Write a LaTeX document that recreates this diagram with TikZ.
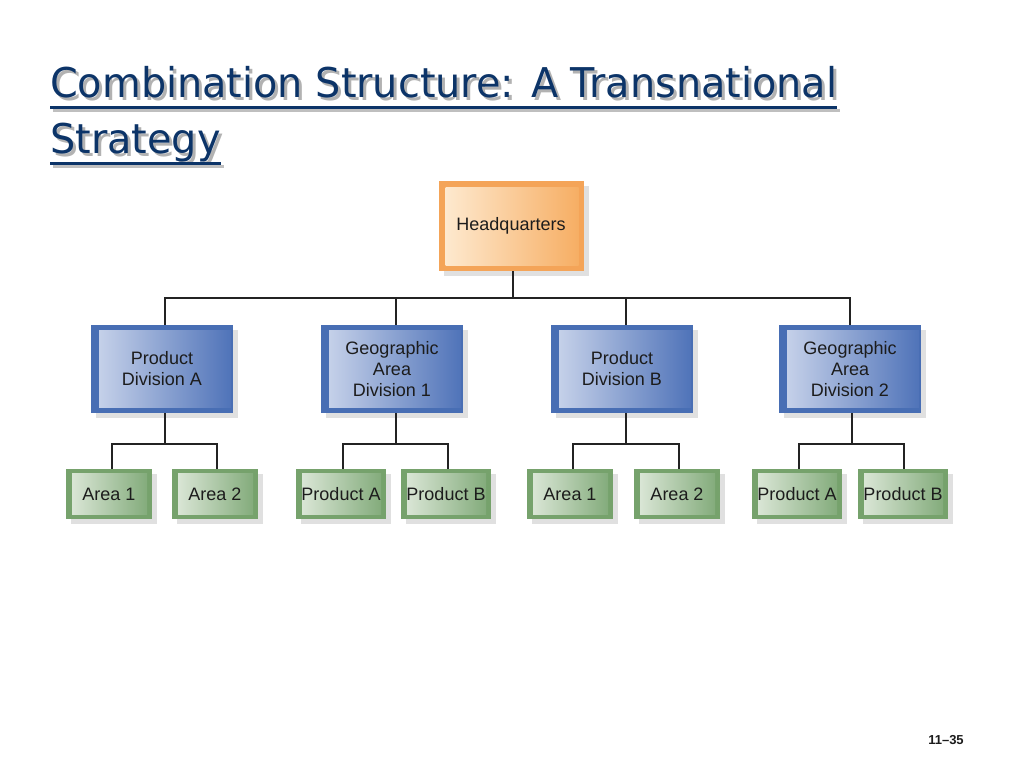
\documentclass[tikz,border=0pt]{standalone}
\usepackage{fontspec}
\setmainfont{Liberation Sans}
\newfontfamily\titlefont{DejaVu Sans}
\usetikzlibrary{shadows}
\definecolor{titlec}{RGB}{12,52,104}
\definecolor{txtc}{RGB}{28,28,28}
\definecolor{hqframe}{RGB}{244,164,88}
\definecolor{hqL}{RGB}{254,236,212}
\definecolor{hqR}{RGB}{246,172,96}
\definecolor{dvframe}{RGB}{72,110,180}
\definecolor{dvL}{RGB}{204,214,236}
\definecolor{dvR}{RGB}{78,114,184}
\definecolor{lfframe}{RGB}{118,162,108}
\definecolor{lfL}{RGB}{224,234,220}
\definecolor{lfR}{RGB}{126,168,118}
\definecolor{linec}{RGB}{35,35,35}
\tikzset{
  orgbase/.style={rectangle, inner sep=0pt, align=center, text=txtc,
    font=\fontsize{18}{21}\selectfont,
    drop shadow={shadow xshift=5pt, shadow yshift=-5pt, fill=black, opacity=0.12}},
  hqbox/.style={orgbase, minimum width=145pt, minimum height=90pt, fill=hqframe,
    path picture={\shade[left color=hqL, right color=hqR]
      ([shift={(7pt,6pt)}]path picture bounding box.south west) rectangle
      ([shift={(-5pt,-6pt)}]path picture bounding box.north east);}},
  divbox/.style={orgbase, minimum width=142pt, minimum height=88pt, fill=dvframe,
    path picture={\shade[left color=dvL, right color=dvR]
      ([shift={(8pt,6pt)}]path picture bounding box.south west) rectangle
      ([shift={(-2pt,-5pt)}]path picture bounding box.north east);}},
  leafbox/.style={orgbase, minimum width=#1, minimum height=50pt, fill=lfframe,
    path picture={\shade[left color=lfL, right color=lfR]
      ([shift={(6pt,5pt)}]path picture bounding box.south west) rectangle
      ([shift={(-5pt,-4pt)}]path picture bounding box.north east);}},
  leafbox/.default=86pt,
  conn/.style={draw=linec, line width=1.2pt},
  titletext/.style={anchor=base west, inner sep=0pt, text=titlec,
    font=\titlefont\fontsize{41}{49}\selectfont},
  titleshadow/.style={titletext, text=black!30},
  uline/.style={draw=titlec, line width=3pt},
  ushadow/.style={draw=black!25, line width=3pt}
}
\begin{document}
\begin{tikzpicture}[x=1pt,y=-1pt]
\useasboundingbox[fill=white] (0,0) rectangle (1024,768);

% title
\node[titleshadow] (t1s) at (53,100) {\scalebox{0.97}[1]{Combination Structure: A Transnational}};
\node[titleshadow] (t2s) at (53,156) {\scalebox{0.97}[1]{Strategy}};
\draw[ushadow] ([shift={(0pt,-10pt)}]t1s.base west) -- ([shift={(0pt,-10pt)}]t1s.base east);
\draw[ushadow] ([shift={(0pt,-10pt)}]t2s.base west) -- ([shift={(0pt,-10pt)}]t2s.base east);
\node[titletext] (t1) at (50,97) {\scalebox{0.97}[1]{Combination Structure: A Transnational}};
\node[titletext] (t2) at (50,153) {\scalebox{0.97}[1]{Strategy}};
\draw[uline] ([shift={(0pt,-10pt)}]t1.base west) -- ([shift={(0pt,-10pt)}]t1.base east);
\draw[uline] ([shift={(0pt,-10pt)}]t2.base west) -- ([shift={(0pt,-10pt)}]t2.base east);

% boxes
\node[hqbox] (hq) at (511,226) {Headquarters};

\node[divbox] (pda) at (162,369) {Product\\Division A};
\node[divbox] (ga1) at (392,369) {Geographic\\Area\\Division 1};
\node[divbox] (pdb) at (622,369) {Product\\Division B};
\node[divbox] (ga2) at (850,369) {Geographic\\Area\\Division 2};

\node[leafbox] (a1a) at (109,494) {Area 1};
\node[leafbox] (a2a) at (215,494) {Area 2};
\node[leafbox=90pt] (pa1) at (341,494) {Product A};
\node[leafbox=90pt] (pb1) at (446,494) {Product B};
\node[leafbox] (a1b) at (570,494) {Area 1};
\node[leafbox] (a2b) at (677,494) {Area 2};
\node[leafbox=90pt] (pa2) at (797,494) {Product A};
\node[leafbox=90pt] (pb2) at (903,494) {Product B};

% connectors
\coordinate (j0) at (513,298);
\coordinate (ja) at (165,444);
\coordinate (j1) at (396,444);
\coordinate (jb) at (626,444);
\coordinate (j2) at (852,444);

\draw[conn] ([xshift=2pt]hq.south) -- (j0);
\draw[conn] ([xshift=3pt]pda.north) |- (j0) -| (ga2.north);
\draw[conn] ([xshift=4pt]ga1.north) -- ([xshift=4pt]ga1.north |- j0);
\draw[conn] ([xshift=4pt]pdb.north) -- ([xshift=4pt]pdb.north |- j0);

\draw[conn] ([xshift=3pt]pda.south) -- (ja);
\draw[conn] ([xshift=3pt]a1a.north) |- (ja) -| ([xshift=2pt]a2a.north);
\draw[conn] ([xshift=4pt]ga1.south) -- (j1);
\draw[conn] ([xshift=2pt]pa1.north) |- (j1) -| ([xshift=2pt]pb1.north);
\draw[conn] ([xshift=4pt]pdb.south) -- (jb);
\draw[conn] ([xshift=3pt]a1b.north) |- (jb) -| ([xshift=2pt]a2b.north);
\draw[conn] ([xshift=2pt]ga2.south) -- (j2);
\draw[conn] ([xshift=2pt]pa2.north) |- (j2) -| ([xshift=1pt]pb2.north);

% page number
\node[anchor=base, inner sep=0pt, font=\bfseries\fontsize{13}{15}\selectfont, text=txtc] (pg) at (946,744) {11–35};
\end{tikzpicture}
\end{document}
